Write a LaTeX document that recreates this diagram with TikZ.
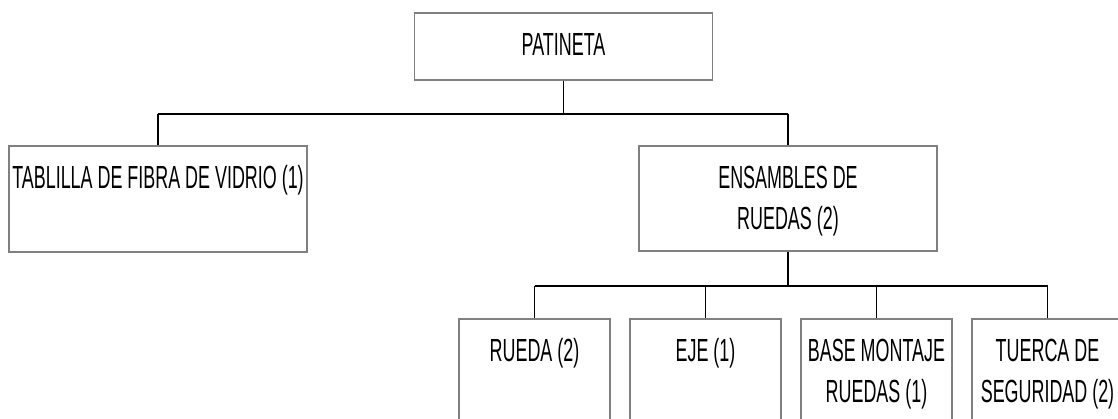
\documentclass[tikz,border=0pt]{standalone}
\usepackage{fontspec}
\setmainfont{Liberation Sans}[FakeStretch=0.56]
\usetikzlibrary{positioning}

\begin{document}
\begin{tikzpicture}[x=1pt,y=-1pt,
  caja/.style={draw=black!50,line width=1.5pt,inner sep=0pt,align=center,
    text height=43pt,font=\fontsize{32}{41}\selectfont},
  dos/.style={text height=84pt},
  ancha/.style={caja,minimum width=298pt},
  angosta/.style={caja,minimum width=151pt,text depth=77pt},
  rama/.style={line width=1.2pt},
  barra/.style={line width=2pt}]
\clip (0,0) rectangle (1118,418);
% nivel 0 y 1
\node[ancha,text depth=24pt,anchor=north] (patineta) at (563.5,12) {PATINETA};
\node[ancha,text depth=63pt,anchor=north] (tablilla) at (158,145) {TABLILLA DE FIBRA DE VIDRIO (1)};
\node[ancha,dos,text depth=21pt,anchor=north] (ensambles) at (788,145) {ENSAMBLES DE\\RUEDAS (2)};
% nivel 2
\node[angosta,anchor=north] (rueda) at (534.5,318) {RUEDA (2)};
\node[angosta,right=18.5pt of rueda] (eje) {EJE (1)};
\node[angosta,dos,text depth=36pt,right=18.5pt of eje] (base) {BASE MONTAJE\\RUEDAS (1)};
\node[angosta,dos,text depth=36pt,right=18.5pt of base] (tuerca) {TUERCA DE\\SEGURIDAD (2)};

\draw[rama] (patineta.south) -- ++(0,33) coordinate (bus1);
\draw[barra] (tablilla.north |- bus1) -- (ensambles.north |- bus1);
\foreach \n in {tablilla,ensambles}
  \draw[rama] (\n.north |- bus1) -- (\n.north);

\draw[rama] (ensambles.south) -- ++(0,34) coordinate (bus2);
\draw[barra] (rueda.north |- bus2) -- (tuerca.north |- bus2);
\foreach \n in {rueda,eje,base,tuerca}
  \draw[rama] (\n.north |- bus2) -- (\n.north);
\end{tikzpicture}
\end{document}
